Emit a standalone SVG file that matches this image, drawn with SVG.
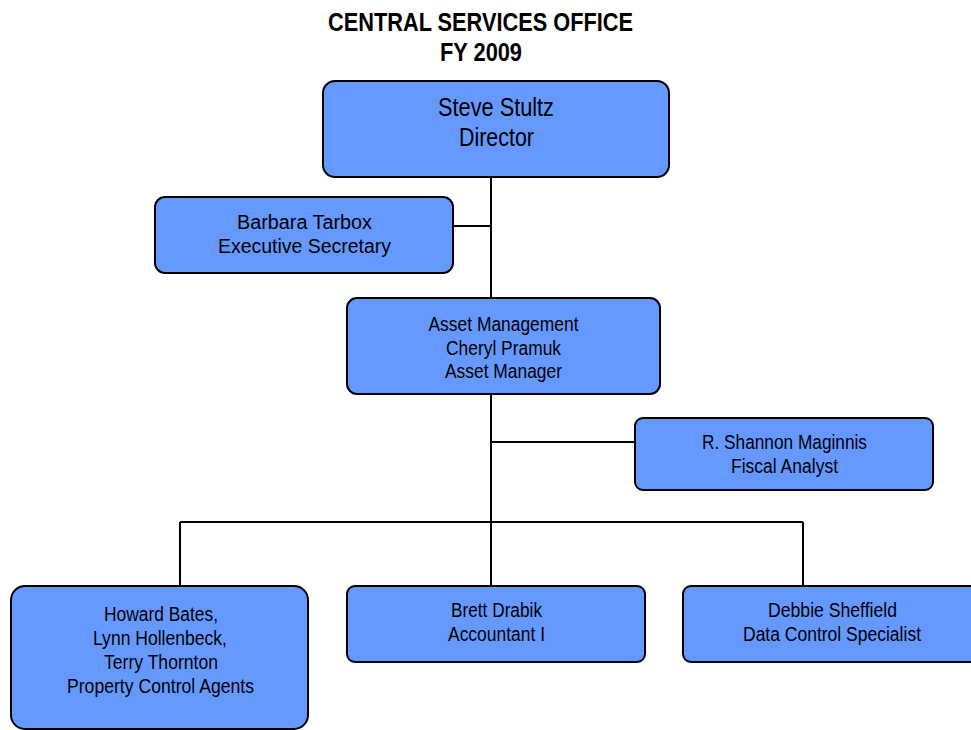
<svg xmlns="http://www.w3.org/2000/svg" width="971" height="730" viewBox="0 0 971 730">
  <style>
    .box { fill: #6699FF; stroke: #000; stroke-width: 2; }
    .lbl { font-family: "Liberation Sans Narrow", "Arial Narrow", "Liberation Sans", sans-serif; fill: #000; text-anchor: middle; }
    .title { font-family: "Liberation Sans Narrow", "Arial Narrow", "Liberation Sans", sans-serif; font-weight: bold; font-size: 25px; text-anchor: middle; fill: #000; }
    .wire { stroke: #000; stroke-width: 2; fill: none; }
  </style>

  <g id="title">
    <text class="title" x="480.5" y="31" textLength="305" lengthAdjust="spacingAndGlyphs">CENTRAL SERVICES OFFICE</text>
    <text class="title" x="481" y="61" textLength="82" lengthAdjust="spacingAndGlyphs">FY 2009</text>
  </g>

  <g id="connectors">
    <path class="wire" d="M491 177 V522"/>
    <path class="wire" d="M453 226 H491"/>
    <path class="wire" d="M491 442 H635"/>
    <path class="wire" d="M180 522 H803"/>
    <path class="wire" d="M180 522 V586"/>
    <path class="wire" d="M491 522 V586"/>
    <path class="wire" d="M803 522 V586"/>
  </g>

  <g id="director">
    <rect class="box" x="323" y="81" width="346" height="96" rx="12"/>
    <text class="lbl" x="496" y="116" font-size="25" textLength="116" lengthAdjust="spacingAndGlyphs">Steve Stultz</text>
    <text class="lbl" x="496.5" y="146" font-size="25" textLength="75" lengthAdjust="spacingAndGlyphs">Director</text>
  </g>

  <g id="secretary">
    <rect class="box" x="155" y="197" width="298" height="76" rx="10"/>
    <text class="lbl" x="304.5" y="229" font-size="20" textLength="135" lengthAdjust="spacingAndGlyphs">Barbara Tarbox</text>
    <text class="lbl" x="304.5" y="253" font-size="20" textLength="173" lengthAdjust="spacingAndGlyphs">Executive Secretary</text>
  </g>

  <g id="asset-manager">
    <rect class="box" x="347" y="298" width="313" height="96" rx="10"/>
    <text class="lbl" x="503.5" y="331" font-size="20" textLength="150" lengthAdjust="spacingAndGlyphs">Asset Management</text>
    <text class="lbl" x="503.5" y="355" font-size="20" textLength="115" lengthAdjust="spacingAndGlyphs">Cheryl Pramuk</text>
    <text class="lbl" x="503.5" y="378" font-size="20" textLength="117" lengthAdjust="spacingAndGlyphs">Asset Manager</text>
  </g>

  <g id="fiscal-analyst">
    <rect class="box" x="635" y="418" width="298" height="72" rx="8"/>
    <text class="lbl" x="784.5" y="449" font-size="20" textLength="165" lengthAdjust="spacingAndGlyphs">R. Shannon Maginnis</text>
    <text class="lbl" x="784.5" y="473" font-size="20" textLength="107" lengthAdjust="spacingAndGlyphs">Fiscal Analyst</text>
  </g>

  <g id="property-agents">
    <rect class="box" x="11" y="586" width="297" height="143" rx="14"/>
    <text class="lbl" x="161" y="621" font-size="20" textLength="114" lengthAdjust="spacingAndGlyphs">Howard Bates,</text>
    <text class="lbl" x="160" y="645" font-size="20" textLength="134" lengthAdjust="spacingAndGlyphs">Lynn Hollenbeck,</text>
    <text class="lbl" x="161" y="669" font-size="20" textLength="114" lengthAdjust="spacingAndGlyphs">Terry Thornton</text>
    <text class="lbl" x="160.5" y="693" font-size="20" textLength="187" lengthAdjust="spacingAndGlyphs">Property Control Agents</text>
  </g>

  <g id="accountant">
    <rect class="box" x="347" y="586" width="298" height="76" rx="8"/>
    <text class="lbl" x="496.5" y="617" font-size="20" textLength="91" lengthAdjust="spacingAndGlyphs">Brett Drabik</text>
    <text class="lbl" x="496.5" y="641" font-size="20" textLength="97" lengthAdjust="spacingAndGlyphs">Accountant I</text>
  </g>

  <g id="data-control">
    <rect class="box" x="683" y="586" width="300" height="76" rx="8"/>
    <text class="lbl" x="832.5" y="617" font-size="20" textLength="129" lengthAdjust="spacingAndGlyphs">Debbie Sheffield</text>
    <text class="lbl" x="832" y="641" font-size="20" textLength="178" lengthAdjust="spacingAndGlyphs">Data Control Specialist</text>
  </g>
</svg>
